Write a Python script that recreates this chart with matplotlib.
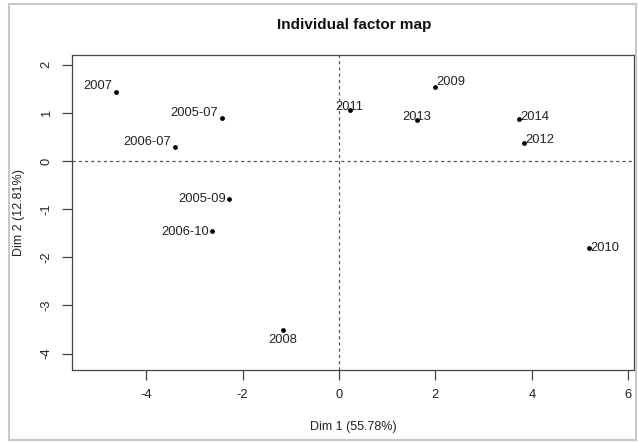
import matplotlib
matplotlib.use("Agg")
import matplotlib.pyplot as plt
from matplotlib.patches import Rectangle

plt.rcParams['font.family'] = ['Liberation Sans', 'DejaVu Sans']

labels = ["2007", "2005-07", "2006-07", "2005-09", "2006-10", "2008",
          "2009", "2011", "2013", "2014", "2012", "2010"]
dim1 = [-4.63, -2.43, -3.40, -2.28, -2.63, -1.16, 1.99, 0.23, 1.62, 3.73, 3.84, 5.18]
dim2 = [1.44, 0.89, 0.30, -0.79, -1.45, -3.51, 1.54, 1.06, 0.85, 0.87, 0.37, -1.80]
# label placement: (ha, va, dx points, dy points)
placement = {
    "2007": ("right", "center", -3, 4),
    "2005-07": ("right", "center", -3, 4),
    "2006-07": ("right", "center", -3, 3),
    "2005-09": ("right", "center", -2, 0),
    "2006-10": ("right", "center", -2, -1),
    "2008": ("center", "top", 0, -3),
    "2009": ("left", "bottom", 1, -1),
    "2011": ("center", "bottom", -0.5, -2.5),
    "2013": ("center", "bottom", -0.5, -2.5),
    "2014": ("left", "bottom", 1, -3),
    "2012": ("left", "bottom", 1, -2),
    "2010": ("left", "center", 1, 0),
}
xticks = [-4, -2, 0, 2, 4, 6]
yticks = [-4, -3, -2, -1, 0, 1, 2]

fig = plt.figure(figsize=(6.38, 4.43), dpi=100)
W, H = 638, 443
ax = fig.add_axes([72 / W, 1 - 370 / H, (634 - 72) / W, (370 - 55) / H])

ax.scatter(dim1, dim2, s=6, color="black", zorder=3)
for lab, x, y in zip(labels, dim1, dim2):
    ha, va, dx, dy = placement[lab]
    ax.annotate(lab, (x, y), xytext=(dx, dy), textcoords="offset points",
                ha=ha, va=va, fontsize=9.3, color="#222222")

ax.axhline(0, color="#555555", lw=0.9, ls=(0, (2.5, 2.5)), zorder=1)
ax.axvline(0, color="#555555", lw=0.9, ls=(0, (2.5, 2.5)), zorder=1)

ax.set_xlim(-5.54, 6.12)
ax.set_ylim(-4.34, 2.2)
ax.set_xticks(xticks)
ax.set_yticks(yticks)
ax.set_xticklabels([str(t) for t in xticks])
ax.set_yticklabels([str(t) for t in yticks], rotation=90, va="center")
ax.tick_params(direction="out", length=7, width=0.9, colors="#444444",
               labelsize=9.3, labelcolor="#222222", pad=7)
for s in ax.spines.values():
    s.set_color("#444444")
    s.set_linewidth(0.9)

ax.set_xlabel("Dim 1 (55.78%)", fontsize=9, color="#222222", labelpad=14)
ax.set_ylabel("Dim 2 (12.81%)", fontsize=9, color="#222222", labelpad=11)
fig.text(354 / W, 1 - 25 / H, "Individual factor map", ha="center", va="center",
         fontsize=11, fontweight="bold", color="#111111")

fig.patches.append(Rectangle((9 / W, 3 / H), (636 - 9) / W, (440 - 4) / H,
                             transform=fig.transFigure, fill=False,
                             edgecolor="#c8c8c8", lw=1.5))

fig.savefig("out.png", dpi=100)
